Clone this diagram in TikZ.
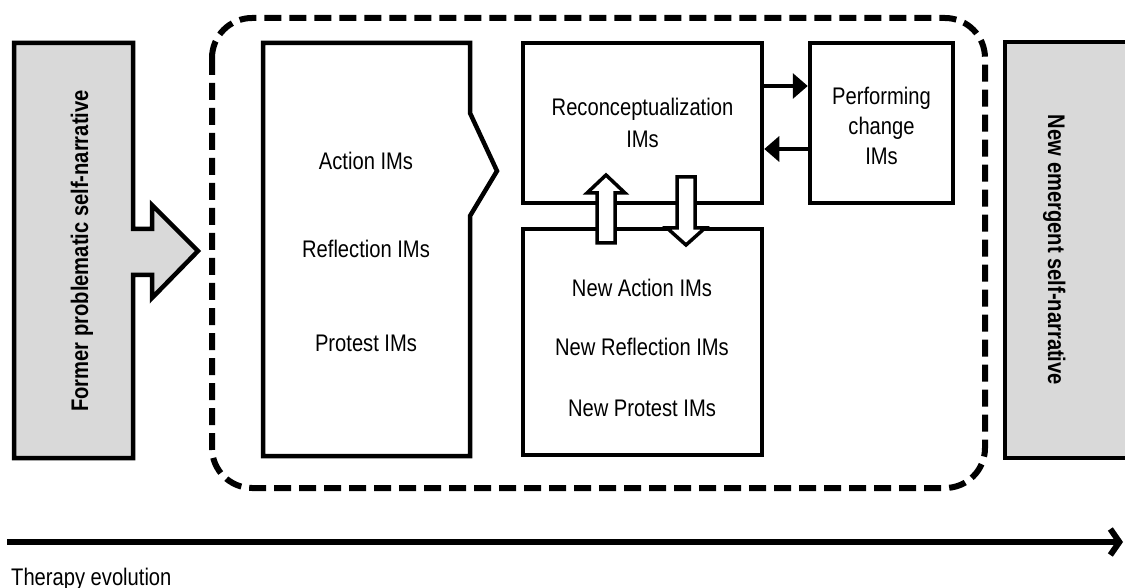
\documentclass[tikz,border=0pt]{standalone}
\usepackage{fontspec}
\setmainfont{Liberation Sans}[FakeStretch=0.84]
\usetikzlibrary{arrows.meta}
\definecolor{boxgray}{HTML}{D9D9D9}
\begin{document}
\begin{tikzpicture}[x=1pt,y=-1pt,line join=miter,
  lbl/.style={font=\fontsize{24}{30}\selectfont, inner sep=0pt, anchor=base},
  blbl/.style={font=\fontsize{24}{30}\selectfont\bfseries, inner sep=0pt, anchor=base},
  imbox/.style={draw, line width=4.5pt, fill=white, rectangle, inner sep=0pt},
  graybox/.style={draw, line width=4.5pt, fill=boxgray},
  frame/.style={draw, line width=6pt, dash pattern=on 17pt off 8pt, rounded corners=40pt},
  conn/.style={line width=3.5pt, -{Triangle[length=15pt,width=25pt]}},
  hollow/.style={draw, line width=3.5pt, fill=white}]
\useasboundingbox (0,0) rectangle (1125,588);
\clip (0,0) rectangle (1125,588);

% dashed frame
\draw[frame] (212,18) rectangle (985,488);

% former self-narrative box with arrow
\draw[graybox] (14,43) -- (133,43) -- (133,229) -- (152,229) -- (152,205) -- (198,251)
  -- (152,298) -- (152,275) -- (133,275) -- (133,458) -- (14,458) -- cycle;
\node[blbl, rotate=90] (former) at (88,251) {Former problematic self-narrative};

% new emergent self-narrative
\draw[graybox] (1005,42) rectangle (1135,458);
\node[blbl, rotate=-90] (newemerg) at (1048,250) {New emergent self-narrative};

% first IMs box with notch
\draw[line width=4.5pt, fill=white] (263,43) -- (470,43) -- (470,113) -- (497,171)
  -- (470,216) -- (470,456) -- (263,456) -- cycle;
\node[lbl] (act) at (366,170) {Action IMs};
\node[lbl] (refl) at (366,258) {Reflection IMs};
\node[lbl] (prot) at (366,351) {Protest IMs};

% boxes
\node[imbox, minimum width=239pt, minimum height=160pt] (reco) at (642.5,123) {};
\node[imbox, minimum width=143pt, minimum height=160pt] (perf) at (881.5,123) {};
\node[imbox, minimum width=239pt, minimum height=226pt] (newb) at (642.5,342) {};

\node[lbl] (reco1) at (642.5,116) {Reconceptualization};
\node[lbl] (reco2) at (642.5,148) {IMs};
\node[lbl] (perf1) at (881.5,105) {Performing};
\node[lbl] (perf2) at (881.5,135) {change};
\node[lbl] (perf3) at (881.5,165) {IMs};
\node[lbl] (new1) at (642,296) {New Action IMs};
\node[lbl] (new2) at (642,355) {New Reflection IMs};
\node[lbl] (new3) at (642,416) {New Protest IMs};

% arrows between reconceptualization and performing change
\coordinate (r1) at (0,86);
\coordinate (r2) at (0,149);
\draw[conn] (reco.east |- r1) -- (perf.west |- r1);
\draw[conn] (perf.west |- r2) -- (reco.east |- r2);

% hollow arrows
\draw[hollow] (597,243) -- (597,193) -- (587,193) -- (606,175) -- (625,193) -- (615,193) -- (615,243) -- cycle;
\draw[hollow] (677,177) -- (695,177) -- (695,228) -- (705,228) -- (686,245) -- (667,228) -- (677,228) -- cycle;

% timeline
\coordinate (t0) at (7,542);
\coordinate (t1) at (1123,542);
\draw[line width=6pt, -{Straight Barb[length=9pt,width=26pt]}] (t0) -- (t1);
\node[lbl, anchor=base west] (therapy) at (11,585) {Therapy evolution};
\end{tikzpicture}
\end{document}
